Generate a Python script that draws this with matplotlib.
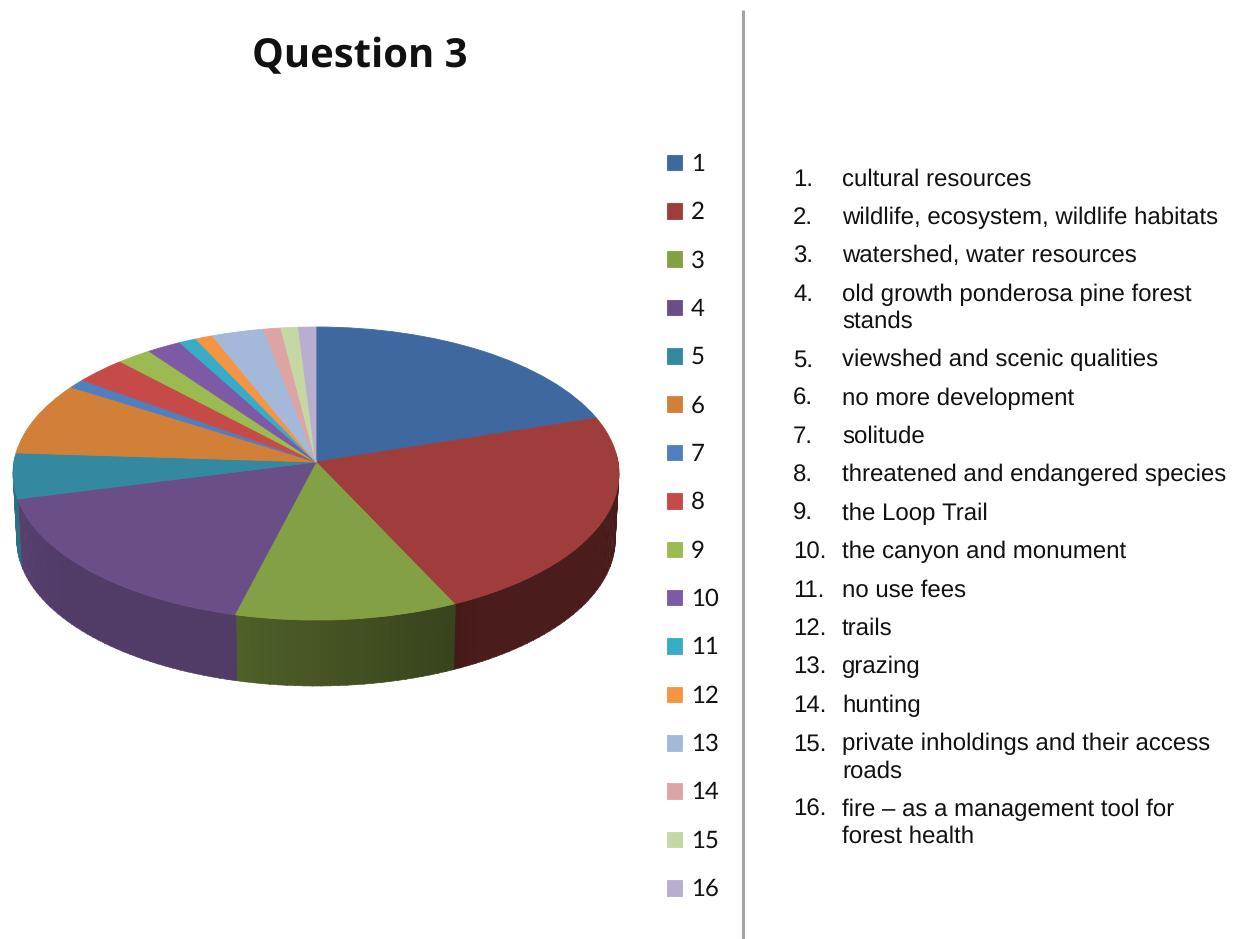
import numpy as np
import matplotlib
matplotlib.use("Agg")
import matplotlib.pyplot as plt
from matplotlib.transforms import Transform

plt.rcParams["text.hinting"] = "no_hinting"
plt.rcParams["text.hinting_factor"] = 1

# ---- data ----
TITLE = "Question 3"
categories = [str(i) for i in range(1, 17)]
values = [20, 23, 11, 17, 5, 8, 1, 3, 2, 2, 1, 1, 3, 1, 1, 1]
colors = ["#3E689F", "#9E3D3B", "#84A044", "#6A4E88", "#34889F", "#D27F37",
          "#4F7FBF", "#C64A47", "#9BBB50", "#7E59A5", "#37ACC6", "#F59542",
          "#A4B8DA", "#DCA5A4", "#C5D7A3", "#B7AED0"]
key_numbers = ["1.", "2.", "3.", "4.", "5.", "6.", "7.", "8.", "9.", "10.",
               "11.", "12.", "13.", "14.", "15.", "16."]
key_texts = ["cultural resources",
             "wildlife, ecosystem, wildlife habitats",
             "watershed, water resources",
             "old growth ponderosa pine forest\nstands",
             "viewshed and scenic qualities",
             "no more development",
             "solitude",
             "threatened and endangered species",
             "the Loop Trail",
             "the canyon and monument",
             "no use fees",
             "trails",
             "grazing",
             "hunting",
             "private inholdings and their access\nroads",
             "fire \u2013 as a management tool for\nforest health"]

W, H = 1236, 939
CX, CY = 316.0, 462.0
K, A, B = 302.0, 145.6, 0.0786
DEPTH, SHRINK = 66.0, 0.012


def project(x, y, z=0.0):
    """Unit-disc pie coordinates to figure pixels, with perspective."""
    d = 1 + B * y
    s = 1 - SHRINK * z
    return CX + K * x / d * s, CY - A * y / d + DEPTH * z


class PieProjection(Transform):
    input_dims = 2
    output_dims = 2
    is_affine = False
    has_inverse = False

    def transform_non_affine(self, values):
        v = np.asarray(values, dtype=float)
        px, py = project(v[:, 0], v[:, 1])
        return np.column_stack([px, py])


def shade(hex_color, f):
    return tuple(c * f for c in matplotlib.colors.to_rgb(hex_color))


fig = plt.figure(figsize=(W / 100, H / 100), dpi=100, facecolor="white")
ax = fig.add_axes([0, 0, 1, 1])

wedges, _ = ax.pie(values, colors=colors, startangle=90, counterclock=False,
                   wedgeprops=dict(linewidth=0.6))
ax.set_aspect("auto")
ax.set_xlim(0, W)
ax.set_ylim(H, 0)
ax.axis("off")

proj = PieProjection()
for w, c in zip(wedges, colors):
    w.set_transform(proj + ax.transData)
    w.set_edgecolor(c)
    w.set_zorder(5)

# Side wall of the disc, shaded by position around the rim.
for w, c in zip(wedges, colors):
    n = max(int((w.theta2 - w.theta1) / 1.5), 1)
    edges = np.linspace(w.theta1, w.theta2, n + 1)
    for t0, t1 in zip(edges[:-1], edges[1:]):
        tm = (t0 + t1) / 2
        if np.sin(np.radians(tm)) > 0.04:
            continue
        clock = (90 - tm) % 360
        f = np.interp(clock, [70, 150, 155, 194, 195, 230, 275],
                      [0.46, 0.47, 0.42, 0.60, 0.76, 0.76, 0.85])
        ts = np.radians(np.linspace(t0, t1 + 0.2, 4))
        xu, yu = np.cos(ts), np.sin(ts)
        x0, y0 = project(xu, yu, 0.0)
        x1, y1 = project(xu, yu, 1.0)
        ax.fill(np.r_[x0, x1[::-1]], np.r_[y0, y1[::-1]], color=shade(c, f),
                linewidth=0.4, zorder=2)

# Title
ax.text(359.5, 67, TITLE, ha="center", va="baseline", fontsize=29,
        fontweight="bold", family="Open Sans", color="#111111")

# Legend
leg = ax.legend(wedges, categories, loc="upper left",
                bbox_to_anchor=(667 / W, 1 - 153 / H),
                bbox_transform=fig.transFigure, frameon=False,
                prop=dict(family="Lato", size=17),
                handlelength=0.64, handleheight=0.64, handletextpad=0.36,
                labelspacing=1.126, borderpad=0, borderaxespad=0)
for t in leg.get_texts():
    t.set_color("#111111")

# Divider
ax.plot([742.5, 742.5], [10, 939], color="#A3A3A3", lw=2.2, solid_capstyle="butt", zorder=1)

# Numbered key
y = 185.5
for num, txt in zip(key_numbers, key_texts):
    ax.text(793, y, num, fontsize=17.25, family="Liberation Sans", va="baseline", ha="left", color="#111111")
    for line in txt.split("\n"):
        ax.text(842, y, line, fontsize=17.25, family="Liberation Sans", va="baseline",
                ha="left", color="#111111")
        y += 27.2
    y += 38.4 - 27.2

fig.savefig("out.png", dpi=100, facecolor="white")
